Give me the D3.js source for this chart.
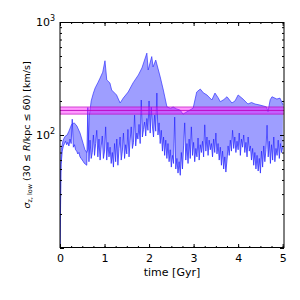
<!DOCTYPE html>
<html>
<head>
<meta charset="utf-8">
<script src="https://cdn.jsdelivr.net/npm/d3@7"></script>
<style>
  body { margin: 0; background: #fff; }
  text { font-family: "DejaVu Sans", sans-serif; }
</style>
</head>
<body>
<script>
var width = 300;
var height = 300;

// upper envelope of the band: [time (Gyr), sigma (km/s)]
var upperTimes = [0, 0.01, 0.03, 0.07, 0.11, 0.16, 0.20, 0.26, 0.32, 0.38, 0.45, 0.52, 0.56, 0.60, 0.63, 0.66,
  0.70, 0.75, 0.79, 0.85, 0.90, 0.96, 1.01, 1.05, 1.12, 1.16, 1.27, 1.35, 1.42, 1.53, 1.64, 1.76, 1.84,
  1.95, 1.98, 2.06, 2.09, 2.15, 2.25, 2.32, 2.40, 2.48, 2.54, 2.62, 2.70, 2.76, 2.82, 2.88, 2.99, 3.07,
  3.15, 3.22, 3.30, 3.41, 3.48, 3.55, 3.60, 3.68, 3.75, 3.86, 3.93, 4.00, 4.11, 4.22, 4.30, 4.38, 4.49,
  4.58, 4.64, 4.67, 4.72, 4.76, 4.87, 4.94, 5.01];
var upperValues = [10, 45, 75, 90, 97, 100, 108, 124, 128, 120, 104, 84, 74, 70, 75, 150,
  200, 235, 261, 290, 319, 360, 454, 307, 289, 250, 226, 192, 212, 240, 289, 340, 392,
  530, 376, 494, 400, 460, 327, 250, 178, 172, 177, 170, 166, 153, 158, 163, 173, 240,
  255, 236, 226, 204, 235, 214, 197, 206, 218, 192, 200, 226, 208, 188, 194, 188, 184,
  180, 177, 161, 205, 218, 208, 212, 184];

// lower (noisy) curve, sampled every lowerStep Gyr from t = 0
var lowerStep = 0.025;
var lowerValues = [
  10, 55, 72, 80, 84,
  88, 82, 86, 80, 92, 84, 138, 78, 82, 74,
  72, 68, 70, 64, 62, 60, 58, 56, 55, 54,
  175, 58,
  90, 62, 70, 100, 66, 84, 110, 64, 92, 60,
  80, 98, 62, 72, 118, 60, 86, 64, 78, 56,
  70, 52, 84, 58, 92, 54, 76, 96, 60, 72,
  104, 62, 82, 68, 112, 64, 90, 118, 76, 86,
  150, 80, 104, 92, 124, 84, 204, 96, 112, 130,
  98, 140, 110, 200, 104, 176, 120, 96, 150, 108,
  235, 100, 128, 84, 110, 72, 96, 66, 90, 62,
  84, 58, 74, 52, 66, 56, 144, 50, 62, 46,
  58, 44, 70, 50, 80, 128, 60, 84, 56, 92,
  62, 118, 66, 86, 58, 76, 64, 94, 60, 82,
  70, 88, 64, 123, 72, 96, 66, 90, 74, 84,
  64, 92, 70, 104, 68, 84, 60, 78, 54, 72,
  50, 64, 47, 60, 80, 66, 90, 72, 110, 76,
  96, 70, 88, 74, 104, 66, 92, 78, 100, 70,
  86, 64, 96, 72, 80, 60, 76, 54, 70, 50,
  66, 48, 62, 46, 72, 52, 80, 58, 74, 122,
  64, 88, 56, 82, 60, 96, 58, 76, 66, 90,
  62, 84, 70, 78];

// horizontal reference band (km/s)
var bandLow = 153, bandMid = 165, bandHigh = 177;

var xTicks = [0, 1, 2, 3, 4, 5];
var yTicks = [10, 100, 1000];
var yTickExp = ["1", "2", "3"];

var svg = d3.select("body").append("svg")
    .attr("width", width)
    .attr("height", height);

var x = d3.scaleLinear().domain([0, 5.03]).range([60, 284]);
var y = d3.scaleLog().domain([10, 1000]).range([248, 22]);

var upper = upperTimes.map(function(t, i) { return [t, upperValues[i]]; });
var lower = lowerValues.map(function(v, i) { return [i * lowerStep, v]; });

svg.append("clipPath").attr("id", "clip")
  .append("rect").attr("x", 60).attr("y", 22).attr("width", 224).attr("height", 226);

var plot = svg.append("g").attr("clip-path", "url(#clip)");

var line = d3.line()
    .x(function(d) { return x(d[0]); })
    .y(function(d) { return y(d[1]); });

// filled region between the two curves
plot.append("path")
    .attr("d", line(upper.concat(lower.slice().reverse())) + "Z")
    .attr("fill", "#0000ff")
    .attr("fill-opacity", 0.38)
    .attr("stroke", "none");

plot.append("path")
    .attr("d", line(lower))
    .attr("fill", "none")
    .attr("stroke", "#2a2aff")
    .attr("stroke-opacity", 0.75)
    .attr("stroke-width", 1);

plot.append("path")
    .attr("d", line(upper))
    .attr("fill", "none")
    .attr("stroke", "#3333ff")
    .attr("stroke-opacity", 0.7)
    .attr("stroke-width", 1);

// magenta band
plot.append("rect")
    .attr("x", 60).attr("width", 224)
    .attr("y", y(bandHigh))
    .attr("height", y(bandLow) - y(bandHigh))
    .attr("fill", "#ff00ff")
    .attr("fill-opacity", 0.4);

[bandLow, bandMid, bandHigh].forEach(function(v, i) {
  plot.append("line")
      .attr("x1", 60).attr("x2", 284)
      .attr("y1", y(v)).attr("y2", y(v))
      .attr("stroke", "#bb00bb")
      .attr("stroke-opacity", i === 1 ? 0.85 : 0.65)
      .attr("stroke-width", 1);
});

// axes (ticks pointing inward)
var xMinor = d3.range(0, 5.01, 0.25);
var yMinor = [];
[10, 100].forEach(function(d) {
  for (var k = 2; k <= 9; k++) yMinor.push(d * k);
});

function styleAxis(g) {
  g.select(".domain").remove();
  g.selectAll(".tick line").attr("stroke", "#000");
  g.selectAll("text").attr("font-size", 11).attr("fill", "#000");
}

svg.append("g").attr("transform", "translate(0,248)")
    .call(d3.axisBottom(x).tickValues(xMinor).tickSize(-2).tickFormat(""))
    .call(styleAxis);
svg.append("g").attr("transform", "translate(0,248)")
    .call(d3.axisBottom(x).tickValues(xTicks).tickSize(-4).tickPadding(6).tickFormat(d3.format("d")))
    .call(styleAxis);
svg.append("g").attr("transform", "translate(0,22)")
    .call(d3.axisTop(x).tickValues(xMinor).tickSize(-2).tickFormat(""))
    .call(styleAxis);
svg.append("g").attr("transform", "translate(0,22)")
    .call(d3.axisTop(x).tickValues(xTicks).tickSize(-4).tickFormat(""))
    .call(styleAxis);

svg.append("g").attr("transform", "translate(60,0)")
    .call(d3.axisLeft(y).tickValues(yMinor).tickSize(-2).tickFormat(""))
    .call(styleAxis);
svg.append("g").attr("transform", "translate(60,0)")
    .call(d3.axisLeft(y).tickValues(yTicks).tickSize(-4).tickFormat(""))
    .call(styleAxis);
svg.append("g").attr("transform", "translate(284,0)")
    .call(d3.axisRight(y).tickValues(yMinor).tickSize(-2).tickFormat(""))
    .call(styleAxis);
svg.append("g").attr("transform", "translate(284,0)")
    .call(d3.axisRight(y).tickValues(yTicks).tickSize(-4).tickFormat(""))
    .call(styleAxis);

// y tick labels as 10^n (the bottom one is not labelled in the figure)
yTicks.forEach(function(v, i) {
  if (i === 0) return;
  var t = svg.append("text")
      .attr("x", 55).attr("y", y(v) + 4)
      .attr("text-anchor", "end")
      .attr("font-size", 11)
      .attr("fill", "#000");
  t.append("tspan").text("10");
  t.append("tspan").attr("dy", -5).attr("font-size", 8).text(yTickExp[i]);
});

// frame
svg.append("rect")
    .attr("x", 60).attr("y", 22.5)
    .attr("width", 224).attr("height", 225)
    .attr("fill", "none")
    .attr("stroke", "#000")
    .attr("stroke-width", 1);

// axis labels
svg.append("text")
    .attr("x", 172).attr("y", 276)
    .attr("text-anchor", "middle")
    .attr("font-size", 11)
    .text("time [Gyr]");

var yl = svg.append("text")
    .attr("transform", "translate(30,135) rotate(-90)")
    .attr("text-anchor", "middle")
    .attr("font-size", 9.5);
yl.append("tspan").attr("font-style", "italic").text("σ");
yl.append("tspan").attr("font-size", 6.5).attr("dy", 2).text("z, low");
yl.append("tspan").attr("dy", -2).text(" (30 ≤ ");
yl.append("tspan").attr("font-style", "italic").text("R");
yl.append("tspan").text("/kpc ≤ 60) [km/s]");
</script>
</body>
</html>
